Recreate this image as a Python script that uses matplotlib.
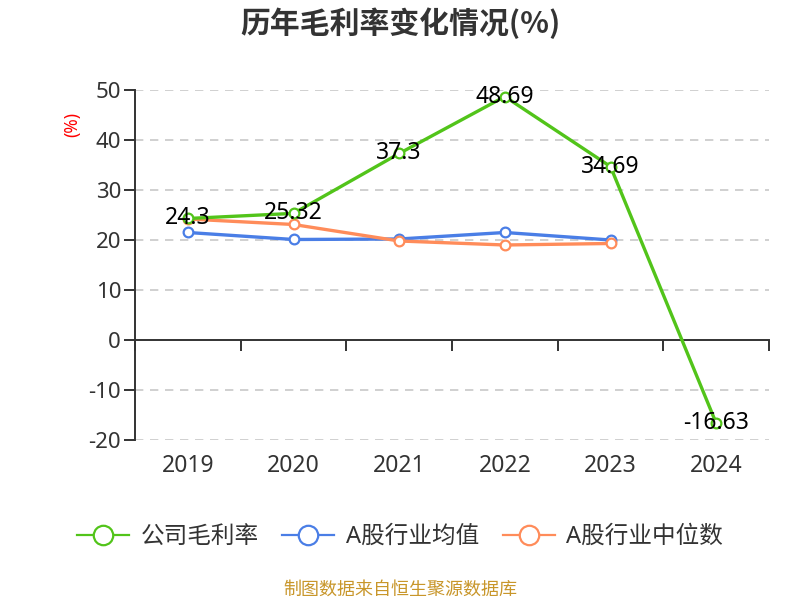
import matplotlib
matplotlib.use('Agg')
import matplotlib.pyplot as plt
import matplotlib.transforms as mtransforms
from matplotlib.lines import Line2D

plt.rcParams['font.family'] = ['Noto Sans', 'Noto Sans CJK SC', 'DejaVu Sans']

years = ['2019', '2020', '2021', '2022', '2023', '2024']
company = [24.3, 25.32, 37.3, 48.69, 34.69, -16.63]
industry_avg = [21.5, 20.1, 20.2, 21.5, 20.0]
industry_median = [24.2, 23.1, 19.8, 19.0, 19.3]
yticks = [-20, -10, 0, 10, 20, 30, 40, 50]

colors = {
    'company': '#52c41a',
    'avg': '#4a7ee6',
    'median': '#ff8c5a',
    'axis': '#333333',
    'grid': '#c8c8c8',
}

fig = plt.figure(figsize=(8, 6), dpi=100)
ax = fig.add_axes([0.16875, 0.2667, 0.7925, 0.5833])

x = list(range(len(years)))
mk = dict(marker='o', markersize=7, markerfacecolor='white', markeredgewidth=1.6)
ax.plot(x[:5], industry_avg, color=colors['avg'], lw=2.4, markeredgecolor=colors['avg'], zorder=3, **mk)
ax.plot(x[:5], industry_median, color=colors['median'], lw=2.4, markeredgecolor=colors['median'], zorder=4, **mk)
ax.plot(x, company, color=colors['company'], lw=2.4, markeredgecolor=colors['company'], zorder=5, **mk)

for xi, v in zip(x, company):
    ax.text(xi, v, f'{v:g}', ha='center', va='center', fontsize=16.5, color='black', zorder=6)

ax.set_xlim(-0.5, len(years) - 0.5)
ax.set_ylim(-20, 50)
ax.set_yticks(yticks)
ax.set_yticklabels([str(t) for t in yticks], fontsize=16, color=colors['axis'])
ax.tick_params(axis='y', length=8, width=1.4, color=colors['axis'], pad=2)
for t in yticks:
    if t != 0:
        ax.axhline(t, color=colors['grid'], lw=1.2, ls=(0, (5, 4)), zorder=1)

ax.spines['top'].set_visible(False)
ax.spines['right'].set_visible(False)
ax.spines['left'].set_color(colors['axis'])
ax.spines['left'].set_linewidth(1.4)
ax.spines['bottom'].set_position(('data', 0))
ax.spines['bottom'].set_color(colors['axis'])
ax.spines['bottom'].set_linewidth(1.4)
ax.set_xticks([i - 0.5 for i in range(len(years) + 1)])
ax.set_xticklabels([])
ax.tick_params(axis='x', length=8, width=1.4, color=colors['axis'], direction='out')

trans = mtransforms.blended_transform_factory(ax.transData, ax.transAxes)
for xi, yr in zip(x, years):
    ax.text(xi, -0.04, yr, transform=trans, ha='center', va='top', fontsize=16.5, color=colors['axis'])

fig.text(0.09, 0.792, '(%)', rotation=90, color='red', fontsize=12.5, ha='center', va='center')
fig.text(0.5, 0.962, '历年毛利率变化情况(%)', ha='center', va='center', fontsize=21.5, fontweight='bold',
         color='#333333', family=['Noto Sans CJK SC', 'DejaVu Sans'])

handles = [
    Line2D([], [], color=c, lw=1.6, marker='o', markersize=14, markerfacecolor='white', markeredgewidth=1.6)
    for c in (colors['company'], colors['avg'], colors['median'])
]
fig.legend(handles, ['公司毛利率', 'A股行业均值', 'A股行业中位数'], loc='center', bbox_to_anchor=(0.5, 0.105),
           ncol=3, frameon=False, fontsize=17, handlelength=2.2, columnspacing=1.0, handletextpad=0.5,
           labelcolor='#333333')

fig.text(0.5, 0.018, '制图数据来自恒生聚源数据库', ha='center', va='center', fontsize=13, color='#c8962a')

fig.savefig('out.png', dpi=100)
